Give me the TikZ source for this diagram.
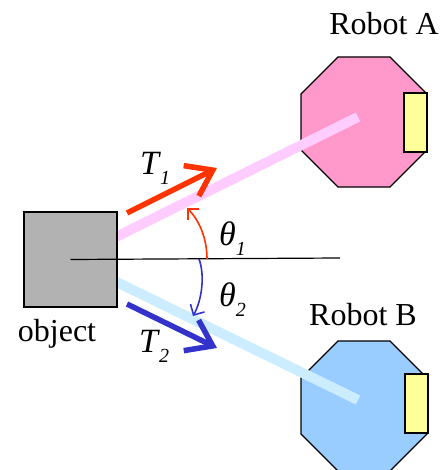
\documentclass[tikz,border=0pt]{standalone}
\usepackage{fontspec}
\setmainfont{Liberation Serif}
\usetikzlibrary{arrows.meta}
\definecolor{bandpink}{RGB}{255,204,255}
\definecolor{bandblue}{RGB}{204,236,255}
\definecolor{robotpink}{RGB}{255,153,204}
\definecolor{robotblue}{RGB}{153,204,255}
\definecolor{padyellow}{RGB}{255,255,153}
\definecolor{objgray}{RGB}{178,178,178}
\definecolor{tred}{RGB}{255,51,0}
\definecolor{tblue}{RGB}{51,51,204}
\tikzset{
  body/.style={draw=black,line width=1.2pt,line join=miter},
  band/.style={line width=10pt,line cap=butt},
  force/.style={line width=5.5pt,-{Straight Barb[length=24pt,width=34pt]}},
  anglearc/.style={line width=1.6pt,-{Straight Barb[length=8pt,width=16pt]}},
  bigtxt/.style={inner sep=0pt,font=\fontsize{32}{36}\selectfont},
  symtxt/.style={inner sep=0pt,font=\fontsize{34}{38}\selectfont\itshape},
}
\newcommand{\lowsub}[2]{\kern#1\raisebox{-10pt}{\fontsize{20}{20}\selectfont\itshape #2}}
\begin{document}
\begin{tikzpicture}[x=1pt,y=-1pt]
\useasboundingbox (0,0) rectangle (445,470);
% robots
\draw[body,fill=robotpink] (338,57) -- (390,57) -- (427,94) -- (427,150) -- (390,187) -- (338,187) -- (301,150) -- (301,94) -- cycle;
\draw[body,fill=padyellow] (404,93) rectangle (427,152);
\draw[body,fill=robotblue] (338,341) -- (390,341) -- (427,378) -- (427,434) -- (390,471) -- (338,471) -- (301,434) -- (301,378) -- cycle;
\draw[body,fill=padyellow] (405,374) rectangle (428,433);
% bands
\coordinate (oc) at (70.5,259.5);
\coordinate (ea) at (358,117);
\coordinate (eb) at (358,400);
\draw[band,bandpink] (oc) -- (ea);
\draw[band,bandblue] (oc) -- (eb);
% object
\node[body,fill=objgray,minimum width=93pt,minimum height=95pt,inner sep=0pt] (obj) at (oc) {};
\coordinate (hx) at (340,258);
\draw[line width=1.2pt] (obj.center) -- (hx);
% forces
\coordinate (t1s) at (127,213);
\coordinate (t1e) at (217,168);
\coordinate (t2s) at (127,304);
\coordinate (t2e) at (217,348);
\draw[force,tred] (t1s) -- (t1e);
\draw[force,tblue] (t2s) -- (t2e);
% angles
\coordinate (a1s) at (207,259);
\coordinate (a1e) at (187,208);
\coordinate (a2s) at (199,259);
\coordinate (a2e) at (193,316);
\draw[anglearc,tred] (a1s) .. controls (207,238) and (199,220) .. (a1e);
\draw[anglearc,tblue] (a2s) .. controls (205,275) and (202,300) .. (a2e);
% labels
\node[bigtxt,anchor=base] (la) at (384,35) {Robot A};
\node[bigtxt,anchor=base] (lb) at (363,325) {Robot B};
\node[bigtxt,anchor=base] (lo) at (57,341) {object};
\node[symtxt,anchor=base west] (lt1) at (140,175) {T\lowsub{1pt}{1}};
\node[symtxt,anchor=base west] (lt2) at (139,352) {T\lowsub{1pt}{2}};
\node[symtxt,anchor=base west] (lth1) at (219,245) {θ\lowsub{0pt}{1}};
\node[symtxt,anchor=base west] (lth2) at (219,306) {θ\lowsub{0pt}{2}};
\end{tikzpicture}
\end{document}
